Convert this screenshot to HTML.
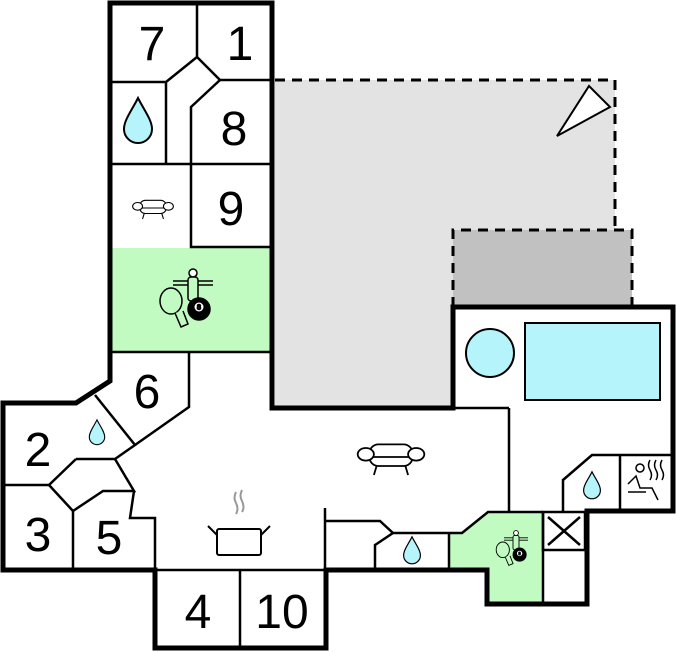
<!DOCTYPE html>
<html><head><style>body{margin:0;background:#fff}svg{display:block}text{font-family:"Liberation Sans",sans-serif;font-size:48px;fill:#000;text-anchor:middle}</style></head><body>
<svg width="676" height="652" viewBox="0 0 676 652" xmlns="http://www.w3.org/2000/svg">
<defs>
<g id="drop"><path d="M0,-22 C-6,-10 -14,0 -14,9 A14,14 0 0 0 14,9 C14,0 6,-10 0,-22Z" fill="#b4f4fa" stroke="#000" stroke-width="2"/></g>
<g id="sofa" fill="none" stroke="#000" stroke-width="2"><rect x="-24" y="-14" width="48" height="24" rx="10" fill="#fff"/><line x1="-20" y1="0" x2="20" y2="0"/><ellipse cx="-28" cy="-3" rx="9" ry="7" fill="#fff"/><ellipse cx="28" cy="-3" rx="9" ry="7" fill="#fff"/><line x1="-16" y1="10" x2="-19" y2="20"/><line x1="16" y1="10" x2="19" y2="20"/></g>
<g id="games" fill="none" stroke="#000" stroke-width="1.5"><line x1="-10" y1="-32" x2="30" y2="-32"/><line x1="-10" y1="-28" x2="30" y2="-28"/><circle cx="10" cy="-40" r="4" fill="#fff"/><rect x="5" y="-36" width="10" height="24" rx="3" fill="#c1fbc1"/><ellipse cx="-12" cy="-12" rx="11" ry="13" fill="#c1fbc1"/><path d="M-8,0 L-2,14 L5,11 L0,-2" fill="#c1fbc1"/><circle cx="16" cy="-4" r="11" fill="#000"/><circle cx="16" cy="-6" r="4.5" fill="#fff" stroke="none"/><text x="16" y="-3.5" style="font-size:7px">8</text></g>
</defs>
<polygon points="275,80 615,80 615,230 453,230 453,408 275,408" fill="#e3e3e3"/>
<rect x="453" y="230" width="179" height="78" fill="#c1c1c1"/>
<path d="M275,80 H615 V230" fill="none" stroke="#000" stroke-width="3" stroke-dasharray="10,7"/>
<path d="M453,307 V230 H632 V307" fill="none" stroke="#000" stroke-width="3" stroke-dasharray="10,7"/>
<polygon points="557,136 589,86 610,107" fill="#fff" stroke="#000" stroke-width="2"/>
<rect x="112" y="248" width="159" height="104" fill="#c1fbc1"/>
<polygon points="449,533 462,533 488,512 543,512 543,604 487,604 487,570 449,570" fill="#c1fbc1"/>
<g fill="none" stroke="#000" stroke-width="2.5">
<path d="M197,3 V57 L220,80 H272"/>
<path d="M112,82 H166 L197,57"/>
<path d="M166,82 V164"/>
<path d="M220,80 L191,107 V247 H271"/>
<path d="M112,164 H271"/>
<path d="M112,352 H271"/>
<path d="M189,352 V407 L135,445"/>
<path d="M95,395 L135,445 L115,459 H76"/>
<path d="M76,459 L49,485 H3"/>
<path d="M49,485 L73,511 V570"/>
<path d="M73,511 L103,491 H134 L115,459"/>
<path d="M134,491 L130,518 H155 V570"/>
<path d="M155,570 H326"/>
<path d="M240,570 V648"/>
<path d="M325,508 V570"/>
<path d="M325,521 H380 L393,533 H462 L488,512 H543"/>
<path d="M393,533 L375,545 V570"/>
<path d="M449,533 V570"/>
<path d="M543,512 V604"/>
<rect x="543" y="512" width="42" height="38"/>
<path d="M548,517 L580,545 M580,517 L548,545"/>
<path d="M509,408 V512"/>
<path d="M453,408 H509"/>
<path d="M563,512 V480 L592,455 H673"/>
<path d="M620,455 V511"/>
</g>
<path d="M110,352 V3 H272 V408 H453 V307 H673 V511 H587 V604 H487 V570 H326 V648 H155 V570 H3 V403 H76 L110,381 V352" fill="none" stroke="#000" stroke-width="5"/>
<path d="M326,570 H487" stroke="#000" stroke-width="4"/>
<circle cx="490" cy="353" r="24" fill="#b4f4fa" stroke="#000" stroke-width="2"/>
<rect x="525" y="323" width="135" height="77" fill="#b4f4fa" stroke="#000" stroke-width="2"/>
<text x="152" y="60">7</text><text x="240" y="60">1</text><text x="234" y="145">8</text><text x="231" y="225">9</text>
<text x="147" y="408">6</text><text x="38" y="466">2</text><text x="38" y="551">3</text><text x="109" y="554">5</text>
<text x="198" y="628">4</text><text x="282" y="628">10</text>
<use href="#drop" x="138" y="120"/>
<use href="#drop" transform="translate(97,432) scale(0.55)"/>
<use href="#drop" transform="translate(412,550) scale(0.6)"/>
<use href="#drop" transform="translate(592,485) scale(0.6)"/>
<use href="#sofa" transform="translate(153,208) scale(0.55)"/>
<use href="#sofa" transform="translate(391,457) scale(0.9)"/>
<use href="#games" x="183" y="313"/>
<use href="#games" transform="translate(510,557) scale(0.6)"/>
<g fill="none" stroke="#000" stroke-width="2">
<rect x="217" y="529" width="44" height="26" rx="2" fill="#fff"/>
<path d="M217,535 L208,526 M261,535 L270,526"/>
<path d="M236,492 q-3,6 0,11 q3,6 0,11 M242,490 q-3,6 0,11 q3,6 0,11" stroke="#999"/>
</g>
<g fill="none" stroke="#000" stroke-width="1.5">
<circle cx="640" cy="468" r="4"/>
<path d="M628,484 L636,476 L640,488 H652 L658,500 M628,492 H646"/>
<path d="M650,460 q-3,5 0,10 q3,5 0,10 M656,460 q-3,5 0,10 q3,5 0,10 M662,460 q-3,5 0,10 q3,5 0,10"/>
</g>
</svg>
</body></html>
